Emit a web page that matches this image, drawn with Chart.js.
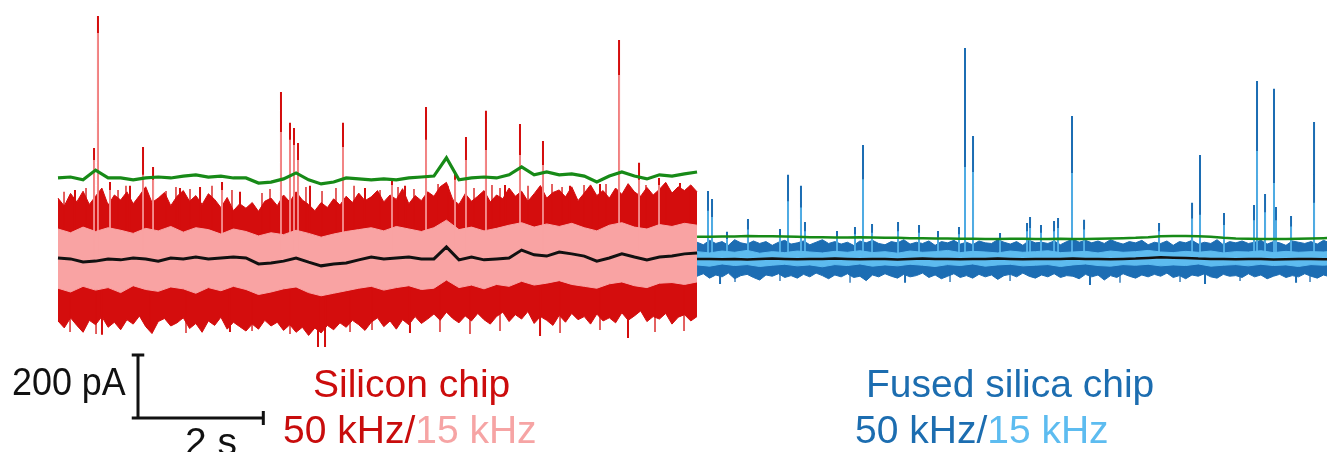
<!DOCTYPE html>
<html>
<head>
<meta charset="utf-8">
<script src="https://cdn.jsdelivr.net/npm/chart.js@4/dist/chart.umd.min.js"></script>
<style>
  html, body { margin: 0; padding: 0; background: #fff; }
  #wrap { position: relative; width: 1327px; height: 452px; overflow: hidden; }
  .lbl { position: absolute; font-family: "Liberation Sans", Arial, sans-serif; font-size: 39px; line-height: 39px; white-space: nowrap; }
</style>
</head>
<body>
<div id="wrap">
  <canvas id="traceChart"></canvas>
  <div class="lbl" style="left:12px; top:362px; color:#111; transform:scaleX(0.92); transform-origin:left;">200 pA</div>
  <div class="lbl" style="left:185px; top:422px; color:#111;">2 s</div>
  <div class="lbl" style="left:313px; top:364px; color:#cc0c0c;">Silicon chip</div>
  <div class="lbl" style="left:283px; top:410px;"><span style="color:#c80c0c;">50 kHz/</span><span style="color:#f6a4a4;">15 kHz</span></div>
  <div class="lbl" style="left:866px; top:364px; color:#1c6db0;">Fused silica chip</div>
  <div class="lbl" style="left:855px; top:410px;"><span style="color:#1c6db0;">50 kHz/</span><span style="color:#5dbcf0;">15 kHz</span></div>
</div>
<script>
// Sampling of the read-off traces (seconds)
const SI_START = 0;      // silicon chip trace start
const FS_START = 10.2;   // fused silica trace start
const EDGE_DT = 0.1;     // noise envelope sample step
const LINE_DT = 0.2;     // mean / threshold sample step

// Silicon chip, current in pA (relative)
const siDarkTop = [
  190,165,205,178,212,170,196,222,168,200,
  184,210,172,198,226,176,190,208,166,196,
  214,180,198,170,204,186,160,192,150,172,
  158,176,148,180,190,166,200,178,210,184,
  170,150,176,160,188,168,196,176,206,182,
  194,214,178,200,186,220,172,198,182,210,
  196,226,240,186,170,204,180,196,214,178,
  200,188,222,196,212,180,204,230,190,208,
  216,194,226,182,206,232,198,214,190,222,
  202,236,210,196,224,200,218,240,206,226,
  214,232,210
];
const siDarkBottom = [
  -200,-222,-190,-214,-236,-198,-212,-186,-220,-204,
  -228,-196,-210,-184,-218,-240,-202,-192,-216,-206,
  -190,-224,-208,-236,-200,-214,-188,-226,-204,-218,
  -232,-210,-226,-198,-216,-204,-230,-212,-236,-220,
  -246,-222,-238,-214,-228,-206,-220,-198,-212,-230,
  -204,-190,-218,-200,-226,-196,-212,-186,-208,-194,
  -178,-198,-172,-192,-206,-184,-200,-176,-196,-210,
  -186,-172,-202,-180,-194,-170,-208,-186,-198,-214,
  -182,-204,-176,-196,-186,-210,-178,-200,-190,-206,
  -174,-198,-184,-168,-202,-186,-194,-176,-210,-188,
  -180,-200,-186
];
const siLightTop = [
  92,80,98,84,96,88,78,94,86,100,
  82,96,90,76,92,84,70,80,74,88,
  78,66,76,84,90,96,86,100,92,84,
  96,120,90,98,86,94,104,112,98,108,
  100,110,96,86,104,112,98,92,106,100,
  110,104
];
const siLightBottom = [
  -96,-108,-90,-102,-94,-110,-88,-100,-106,-92,
  -98,-112,-94,-104,-90,-100,-116,-108,-98,-92,
  -110,-120,-112,-104,-96,-90,-102,-94,-88,-100,
  -96,-70,-94,-86,-98,-84,-90,-74,-86,-80,
  -72,-84,-90,-96,-82,-76,-88,-94,-80,-78,
  -84,-76
];
const siMean = [
  0,-3,-13,-10,-3,-6,0,-3,-10,0,
  -3,3,-3,0,3,0,-19,-16,-10,0,
  -13,-25,-19,-16,-6,3,-3,0,3,-3,
  -3,35,-6,3,-6,-3,0,25,10,6,
  19,13,6,-10,0,13,3,-6,3,6,
  13,16
];
const siThreshold = [
  254,257,248,279,254,254,248,254,257,254,
  260,264,257,260,254,254,238,241,251,270,
  248,235,241,254,251,248,251,248,254,257,
  260,318,248,254,257,254,264,289,264,273,
  264,267,260,241,260,273,260,251,264,260,
  267,273
];
// events: time (s), 50 kHz peak (pA), 15 kHz peak (pA, null = not visible)
const siSpikeT = [
  0.575,0.638,0.830,1.357,1.517,2.618,3.559,3.703,3.767,3.831,
  4.549,5.331,5.874,6.337,6.512,6.831,7.374,7.741,8.955,9.274,9.593,
  0.271,1.149,1.947,2.267,2.905,4.022,4.900,5.539,7.135,8.172,8.651,9.928,
  0.702,2.745,4.150,4.262,5.618,7.694,9.098
];
const siSpikeTop = [
  349,768,241,352,289,241,527,429,413,365,
  429,248,479,273,384,467,425,371,692,302,254,
  216,229,222,225,210,229,222,229,232,229,235,238,
  -244,-235,-283,-283,-238,-248,-254
];
const siSpikeTop15 = [
  311,714,216,264,248,216,400,375,359,311,
  352,232,375,248,311,343,327,295,581,248,232,
  null,null,null,null,null,null,null,null,null,null,null,null,
  null,null,null,null,null,null,null
];
// short noise hairs on the band edges: time (s), peak (pA)
const siHairT = [
  0.096,0.447,0.958,1.085,1.724,1.883,2.107,2.458,2.777,3.256,
  3.384,3.958,4.214,4.437,4.725,5.140,5.427,5.682,6.066,6.225,
  6.640,6.927,7.055,7.502,7.885,8.045,8.396,8.524,8.747,9.385,
  9.704,10.088,
  0.192,0.607,1.468,2.043,3.097,3.703,4.661,5.012,6.097,6.576,
  7.055,8.013,8.651,9.529,9.992
];
const siHairTop = [
  210,222,216,229,213,225,219,229,216,206,
  219,225,213,222,229,216,225,219,235,229,
  222,232,222,229,235,225,232,222,235,232,
  238,229,
  -235,-241,-229,-238,-232,-241,-235,-229,-235,-241,
  -232,-238,-229,-235,-232
];

// Fused silica chip, current in pA (relative)
const fsDarkTop = [
  50,42,56,46,52,40,58,48,44,54,
  46,52,40,50,56,44,48,54,42,50,
  58,46,52,44,50,40,54,48,56,46,
  42,52,48,58,44,50,46,54,40,52,
  48,56,44,50,42,54,48,46,58,50,
  44,52,40,56,48,50,46,54,42,52,
  60,50,56,48,54,46,58,50,44,52,
  48,56,42,50,46,54,40,52,48,56,
  44,50,46,58,42,52,48,54,46,50,
  56,44,52,48,40,54,50,46,52,44,
  56,48,52
];
const fsDarkBottom = [
  -58,-50,-64,-54,-60,-48,-66,-56,-52,-62,
  -70,-54,-58,-50,-62,-56,-64,-52,-60,-48,
  -56,-66,-54,-60,-50,-62,-58,-72,-54,-60,
  -50,-58,-64,-52,-60,-56,-48,-62,-54,-66,
  -58,-50,-62,-56,-64,-52,-60,-54,-68,-56,
  -52,-60,-48,-58,-64,-54,-60,-50,-62,-56,
  -58,-66,-52,-60,-54,-70,-56,-62,-50,-58,
  -64,-54,-60,-52,-58,-48,-62,-56,-66,-54,
  -58,-50,-60,-64,-52,-58,-56,-62,-50,-60,
  -54,-66,-58,-52,-62,-56,-60,-50,-58,-64,
  -54,-60,-56
];
const fsLightTop = [
  20,16,22,18,24,15,20,17,22,19,
  16,21,18,23,17,20,15,22,18,20,
  24,17,21,19,16,22,18,20,23,17,
  19,21,16,22,18,20,24,19,17,21,
  18,22,16,20,19,23,17,21,18,20,
  19,22
];
const fsLightBottom = [
  -22,-26,-19,-24,-21,-27,-23,-20,-25,-22,
  -28,-21,-24,-19,-26,-22,-25,-20,-23,-27,
  -21,-24,-19,-26,-22,-20,-25,-23,-21,-27,
  -22,-19,-24,-26,-21,-23,-20,-25,-22,-24,
  -19,-26,-23,-21,-25,-20,-24,-22,-27,-21,
  -23,-20
];
const fsMean = [
  -3,-3,-4,-3,-5,-3,-2,-3,-4,-3,
  -3,-2,-3,-4,-3,-3,-5,-3,-2,-3,
  -3,-4,-3,-3,-2,-3,-4,-3,-3,-3,
  -2,-3,-3,-4,-3,-2,0,2,1,0,
  -2,-3,-3,-4,-3,-3,-5,-4,-3,-3,
  -4,-3
];
const fsThreshold = [
  67,67,68,68,70,69,69,68,67,66,
  66,65,65,66,65,64,64,63,63,62,
  62,61,61,60,60,61,61,60,60,61,
  60,60,61,62,63,64,66,69,70,70,
  69,67,64,62,61,60,60,60,61,62,
  63,64
];
const fsSpikeT = [
  10.375,10.439,10.678,11.013,11.524,11.652,11.859,11.923,12.434,12.721,
  12.849,12.993,13.408,13.743,14.046,14.381,14.477,14.605,15.036,15.467,
  15.515,15.690,15.898,15.962,16.185,16.377,17.574,18.101,18.228,18.611,
  19.090,19.138,19.266,19.409,19.441,19.681,20.048,
  10.567,13.520,16.472,18.308,19.761
];
const fsSpikeTop = [
  213,187,83,124,92,264,229,114,86,98,
  359,108,114,105,86,98,667,387,79,111,
  130,105,117,127,451,121,111,175,327,143,
  168,562,203,537,162,133,432,
  -83,-79,-86,-83,-79
];
const fsSpikeTop15 = [
  150,130,60,90,70,180,160,85,65,75,
  250,80,85,80,65,75,289,273,60,85,
  95,80,85,95,270,90,85,125,137,105,
  120,340,145,238,120,100,175,
  null,null,null,null,null
];
const fsHairT = [10.806,11.524,12.642,14.238,15.196,16.951,17.909,18.867,19.984];
const fsHairTop = [-76,-73,-79,-76,-73,-79,-76,-73,-76];

// Scale bar (2 s, 200 pA)
const BAR_SECONDS = 2;
const BAR_PA = 200;
const BAR_T = 1.277;
const BAR_Y = -508;

// Colours
const SI_DARK = '#d40d0d';
const SI_LIGHT = '#f9a3a3';
const FS_DARK = '#1c6db3';
const FS_LIGHT = '#5dbbef';
const GREEN = '#178a17';
const BLACK = '#111111';

function series(t0, dt, values) {
  return values.map((v, i) => ({ x: t0 + i * dt, y: v }));
}

function spikes(times, tops) {
  const pts = [];
  times.forEach((t, i) => {
    if (tops[i] === null) return;
    pts.push({ x: t, y: 0 }, { x: t, y: tops[i] }, { x: t, y: null });
  });
  return pts;
}

const datasets = [];

function addBand(upper, lower, color, order) {
  datasets.push({ data: upper, borderColor: color, backgroundColor: color, borderWidth: 1, fill: '+1', order: order });
  datasets.push({ data: lower, borderColor: color, borderWidth: 1, fill: false, order: order });
}

function addLine(data, color, width, order) {
  datasets.push({ data: data, borderColor: color, borderWidth: width, fill: false, order: order });
}

// silicon chip
addBand(series(SI_START, EDGE_DT, siDarkTop), series(SI_START, EDGE_DT, siDarkBottom), SI_DARK, 10);
addLine(spikes(siHairT, siHairTop), SI_DARK, 1.3, 9);
addLine(spikes(siSpikeT, siSpikeTop), SI_DARK, 2, 8);
addBand(series(SI_START, LINE_DT, siLightTop), series(SI_START, LINE_DT, siLightBottom), SI_LIGHT, 6);
addLine(spikes(siSpikeT, siSpikeTop15), SI_LIGHT, 1.6, 4);
addLine(series(SI_START, LINE_DT, siMean), BLACK, 3, 2);
addLine(series(SI_START, LINE_DT, siThreshold), GREEN, 3.2, 1);

// fused silica chip
addBand(series(FS_START, EDGE_DT, fsDarkTop), series(FS_START, EDGE_DT, fsDarkBottom), FS_DARK, 10);
addLine(spikes(fsHairT, fsHairTop), FS_DARK, 1.3, 9);
addLine(spikes(fsSpikeT, fsSpikeTop), FS_DARK, 2, 8);
addBand(series(FS_START, LINE_DT, fsLightTop), series(FS_START, LINE_DT, fsLightBottom), FS_LIGHT, 6);
addLine(spikes(fsSpikeT, fsSpikeTop15), FS_LIGHT, 1.6, 4);
addLine(series(FS_START, LINE_DT, fsMean), BLACK, 2.5, 2);
addLine(series(FS_START, LINE_DT, fsThreshold), GREEN, 2.5, 1);

// scale bar
addLine([
  { x: BAR_T - 0.1, y: BAR_Y + BAR_PA }, { x: BAR_T + 0.1, y: BAR_Y + BAR_PA }, { x: BAR_T, y: null },
  { x: BAR_T, y: BAR_Y + BAR_PA }, { x: BAR_T, y: BAR_Y }, { x: BAR_T + BAR_SECONDS, y: BAR_Y }, { x: BAR_T + BAR_SECONDS, y: null },
  { x: BAR_T - 0.1, y: BAR_Y }, { x: BAR_T, y: BAR_Y }, { x: BAR_T, y: null },
  { x: BAR_T + BAR_SECONDS, y: BAR_Y + 22 }, { x: BAR_T + BAR_SECONDS, y: BAR_Y - 22 }
], BLACK, 3, 0);

const ctx = document.getElementById('traceChart').getContext('2d');
new Chart(ctx, {
  type: 'line',
  data: { datasets: datasets },
  options: {
    responsive: true,
    maintainAspectRatio: false,
    animation: false,
    spanGaps: false,
    layout: { padding: 0 },
    elements: { point: { radius: 0 }, line: { tension: 0, borderCapStyle: 'butt' } },
    plugins: { legend: { display: false }, tooltip: { enabled: false } },
    scales: {
      x: { type: 'linear', min: -0.9258, max: 20.255, display: false },
      y: { type: 'linear', min: -616, max: 819, display: false }
    }
  }
});
</script>
</body>
</html>
